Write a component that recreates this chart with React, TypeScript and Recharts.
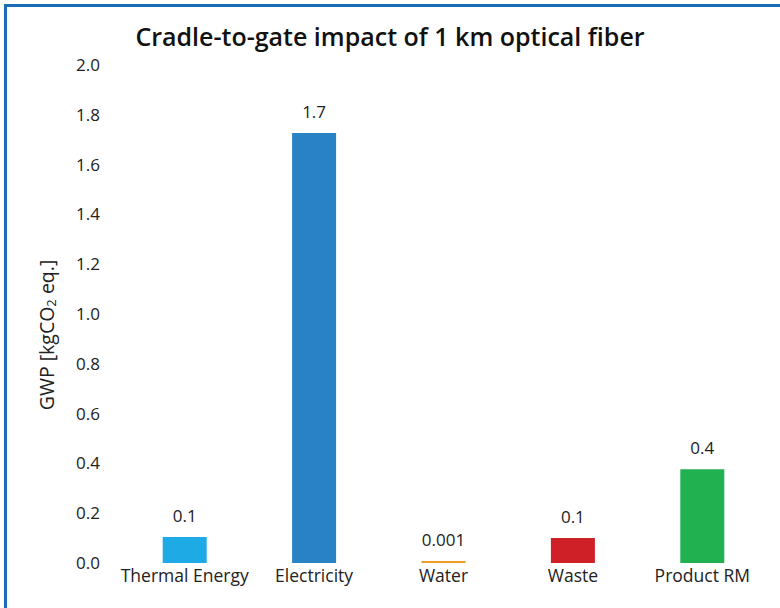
import React from 'react';
import { BarChart, Bar, XAxis, YAxis, Cell, LabelList } from 'recharts';

const categories = ['Thermal Energy', 'Electricity', 'Water', 'Waste', 'Product RM'];
const gwpValues = [0.104, 1.727, 0.001, 0.1, 0.377];
const valueLabels = ['0.1', '1.7', '0.001', '0.1', '0.4'];
const barColors = ['#1eaae4', '#2a82c6', '#f39c1f', '#d02027', '#21b150'];
const yTicks = [0, 0.2, 0.4, 0.6, 0.8, 1.0, 1.2, 1.4, 1.6, 1.8, 2.0];

const data = categories.map((c, i) => ({ name: c, value: gwpValues[i], label: valueLabels[i] }));

const FONT = '"Open Sans", "Noto Sans", sans-serif';

const renderYLabel = (props: any) => {
  const vb = props.viewBox || {};
  const x = 46;
  const y = (vb.y ?? 65) + (vb.height ?? 498) / 2 + 21;
  return (
    <text
      x={x}
      y={y}
      transform={`rotate(-90, ${x}, ${y})`}
      textAnchor="middle"
      dominantBaseline="central"
      fontFamily={FONT}
      fontSize={19.5}
      fill="#222"
    >
      GWP [kgCO<tspan dy={5} fontSize={13}>2</tspan><tspan dy={-5}> eq.]</tspan>
    </text>
  );
};

export default function App() {
  return (
    <div style={{ position: 'absolute', left: 0, top: 0, width: 780, height: 608, background: '#fff', overflow: 'hidden' }}>
      <div
        style={{
          position: 'absolute',
          left: 4,
          top: 4,
          width: 800,
          height: 700,
          borderTop: '3px solid #1a6bb5',
          borderLeft: '3px solid #1a6bb5',
          boxSizing: 'border-box',
        }}
      />
      <div
        style={{
          position: 'absolute',
          left: 0,
          top: 19,
          width: 780,
          textAlign: 'center',
          fontFamily: FONT,
          fontWeight: 600,
          fontSize: 25,
          color: '#111',
        }}
      >
        Cradle-to-gate impact of 1 km optical fiber
      </div>
      <div style={{ position: 'absolute', left: 0, top: 0 }}>
        <BarChart
          width={780}
          height={608}
          data={data}
          margin={{ top: 65, right: 13, bottom: 15, left: 60 }}
          barCategoryGap="33%"
        >
          <XAxis
            dataKey="name"
            axisLine={false}
            tickLine={false}
            tickMargin={1}
            height={30}
            interval={0}
            tick={{ fontFamily: FONT, fontSize: 17.5, fill: '#222' }}
          />
          <YAxis
            domain={[0, 2]}
            ticks={yTicks}
            axisLine={false}
            tickLine={false}
            tickMargin={14}
            width={60}
            tickFormatter={(v: number) => v.toFixed(1)}
            tick={{ fontFamily: FONT, fontSize: 17, fill: '#222' }}
            label={{ content: renderYLabel }}
          />
          <Bar dataKey="value" isAnimationActive={false} minPointSize={2}>
            {data.map((d, i) => (
              <Cell key={d.name} fill={barColors[i]} />
            ))}
            <LabelList
              dataKey="label"
              position="top"
              offset={15}
              style={{ fontFamily: FONT, fontSize: 17, fill: '#222' }}
            />
          </Bar>
        </BarChart>
      </div>
    </div>
  );
}
